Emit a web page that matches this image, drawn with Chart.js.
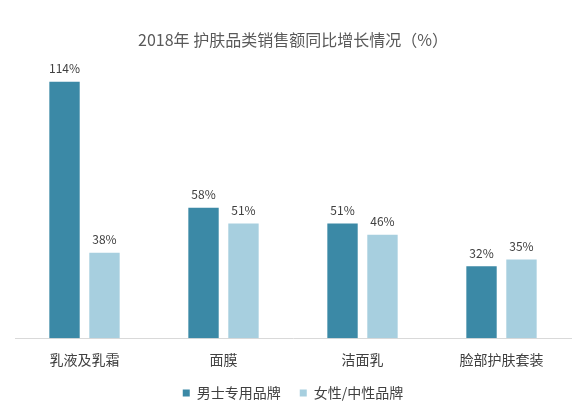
<!DOCTYPE html>
<html>
<head>
<meta charset="utf-8">
<script src="https://cdn.jsdelivr.net/npm/chart.js@4.4.0/dist/chart.umd.min.js"></script>
<style>
html,body{margin:0;padding:0;background:#fff;}
#wrap{width:580px;height:406px;position:relative;}
</style>
</head>
<body>
<div id="wrap"><canvas id="c" width="580" height="406"></canvas></div>
<script>
const titleText = '2018年 护肤品类销售额同比增长情况（%）';
const categories = ['乳液及乳霜', '面膜', '洁面乳', '脸部护肤套装'];
const seriesNames = ['男士专用品牌', '女性/中性品牌'];
const maleValues = [114, 58, 51, 32];
const femaleValues = [38, 51, 46, 35];

const FONT = '"Noto Sans CJK SC", "Noto Sans", sans-serif';

const valueLabels = {
  id: 'valueLabels',
  afterDatasetsDraw(chart) {
    const ctx = chart.ctx;
    ctx.save();
    ctx.font = '12px ' + FONT;
    ctx.fillStyle = '#404040';
    ctx.textAlign = 'center';
    ctx.textBaseline = 'middle';
    chart.data.datasets.forEach((ds, i) => {
      const meta = chart.getDatasetMeta(i);
      meta.data.forEach((bar, j) => {
        ctx.fillText(ds.data[j] + '%', bar.x, bar.y - 13);
      });
    });
    ctx.restore();
  }
};

new Chart(document.getElementById('c'), {
  type: 'bar',
  data: {
    labels: categories,
    datasets: [
      { label: seriesNames[0], data: maleValues, backgroundColor: '#3b89a6' },
      { label: seriesNames[1], data: femaleValues, backgroundColor: '#a7cfdf' }
    ]
  },
  options: {
    responsive: false,
    animation: false,
    devicePixelRatio: 1,
    layout: { padding: { left: 15, right: 9, top: 0, bottom: -4 } },
    datasets: { bar: { categoryPercentage: 0.575, barPercentage: 0.76 } },
    scales: {
      x: {
        grid: { display: false, drawTicks: false },
        border: { display: true, color: '#d9d9d9', width: 1 },
        ticks: { font: { size: 14, family: FONT }, color: '#404040', padding: 13 },
        afterFit(scale) { scale.height = scale.height - 14; }
      },
      y: { display: false, min: 0, max: 124 }
    },
    plugins: {
      title: {
        display: true,
        text: titleText,
        color: '#595959',
        font: { size: 16, family: FONT, weight: 'normal' },
        padding: { top: 30, bottom: 10 }
      },
      legend: {
        position: 'bottom',
        labels: {
          boxWidth: 7, boxHeight: 7, padding: 19,
          color: '#404040',
          font: { size: 14, family: FONT }
        }
      },
      tooltip: { enabled: false }
    }
  },
  plugins: [valueLabels]
});
</script>
</body>
</html>
